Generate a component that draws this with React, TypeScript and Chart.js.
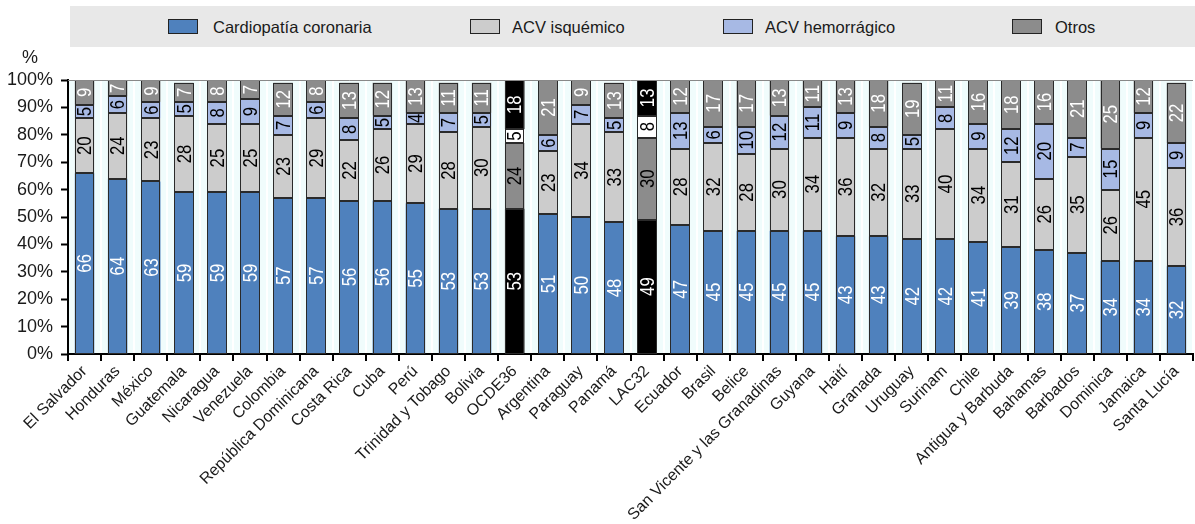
import React, { useEffect, useRef } from "react";
import { Chart, registerables } from "chart.js";

Chart.register(...registerables);

const categories = [
  "El Salvador", "Honduras", "México", "Guatemala", "Nicaragua", "Venezuela", "Colombia",
  "República Dominicana", "Costa Rica", "Cuba", "Perú", "Trinidad y Tobago", "Bolivia", "OCDE36",
  "Argentina", "Paraguay", "Panamá", "LAC32", "Ecuador", "Brasil", "Belice",
  "San Vicente y las Granadinas", "Guyana", "Haití", "Granada", "Uruguay", "Surinam", "Chile",
  "Antigua y Barbuda", "Bahamas", "Barbados", "Dominica", "Jamaica", "Santa Lucía",
];
const coronaria = [66, 64, 63, 59, 59, 59, 57, 57, 56, 56, 55, 53, 53, 53, 51, 50, 48, 49, 47, 45, 45, 45, 45, 43, 43, 42, 42, 41, 39, 38, 37, 34, 34, 32];
const isquemico = [20, 24, 23, 28, 25, 25, 23, 29, 22, 26, 29, 28, 30, 24, 23, 34, 33, 30, 28, 32, 28, 30, 34, 36, 32, 33, 40, 34, 31, 26, 35, 26, 45, 36];
const hemorragico = [5, 6, 6, 5, 8, 9, 7, 6, 8, 5, 4, 7, 5, 5, 6, 7, 5, 8, 13, 6, 10, 12, 11, 9, 8, 5, 8, 9, 12, 20, 7, 15, 9, 9];
const otros = [9, 7, 9, 7, 8, 7, 12, 8, 13, 12, 13, 11, 11, 18, 21, 9, 13, 13, 12, 17, 17, 13, 11, 13, 18, 19, 11, 16, 18, 16, 21, 25, 12, 22];
const seriesNames = ["Cardiopatía coronaria", "ACV isquémico", "ACV hemorrágico", "Otros"];
const highlighted = ["OCDE36", "LAC32"];
const yTicks = [0, 10, 20, 30, 40, 50, 60, 70, 80, 90, 100];

const normalColors = ["#4F81BD", "#CCCCCC", "#A7B9E4", "#8C8C8C"];
const normalText = ["#FFFFFF", "#000000", "#000000", "#FFFFFF"];
const hiColors = ["#000000", "#8C8C8C", "#FFFFFF", "#000000"];
const hiText = ["#FFFFFF", "#000000", "#000000", "#FFFFFF"];

const SANS = '"Liberation Sans", Arial, sans-serif';

const isHi = (i: number) => highlighted.includes(categories[i]);

const bgPlugin = {
  id: "bgPlugin",
  beforeDraw(chart: any) {
    const { ctx, chartArea } = chart;
    ctx.save();
    ctx.fillStyle = "#F0FCFC";
    ctx.fillRect(chartArea.left, chartArea.top, chartArea.right - chartArea.left, chartArea.bottom - chartArea.top);
    ctx.restore();
  },
  afterDraw(chart: any) {
    const { ctx, chartArea } = chart;
    ctx.save();
    ctx.strokeStyle = "#888888";
    ctx.lineWidth = 1;
    ctx.beginPath();
    ctx.moveTo(chartArea.left, chartArea.top + 0.5);
    ctx.lineTo(chartArea.right, chartArea.top + 0.5);
    ctx.stroke();
    ctx.fillStyle = "#1a1a1a";
    ctx.font = `18px ${SANS}`;
    ctx.textAlign = "center";
    ctx.textBaseline = "middle";
    ctx.fillText("%", 30, 58);
    ctx.restore();
  },
};

const labelPlugin = {
  id: "labelPlugin",
  afterDatasetsDraw(chart: any) {
    const { ctx, chartArea } = chart;
    ctx.save();
    // segment outlines
    ctx.strokeStyle = "#2a2a2a";
    ctx.lineWidth = 1;
    chart.data.datasets.forEach((ds: any, di: number) => {
      const meta = chart.getDatasetMeta(di);
      meta.data.forEach((el: any) => {
        const top = Math.max(el.y, chartArea.top);
        const bottom = Math.min(el.base, chartArea.bottom);
        if (bottom - top < 0.5) return;
        const l = Math.round(el.x - el.width / 2) + 0.5;
        const r = Math.round(el.x + el.width / 2) - 0.5;
        const t = Math.round(top) + 0.5;
        const b = Math.round(bottom) - 0.5;
        ctx.strokeRect(l, t, r - l, b - t);
      });
    });
    ctx.font = `21px ${SANS}`;
    ctx.textAlign = "center";
    ctx.textBaseline = "middle";
    chart.data.datasets.forEach((ds: any, di: number) => {
      const meta = chart.getDatasetMeta(di);
      meta.data.forEach((el: any, i: number) => {
        const v = ds.data[i];
        const top = Math.max(el.y, chartArea.top);
        const bottom = Math.min(el.base, chartArea.bottom);
        const cy = (top + bottom) / 2;
        ctx.fillStyle = isHi(i) ? hiText[di] : normalText[di];
        ctx.save();
        ctx.translate(el.x + 1, cy);
        ctx.rotate(-Math.PI / 2);
        ctx.scale(0.8, 1);
        ctx.fillText(String(v), 0, 0);
        ctx.restore();
      });
    });
    ctx.restore();
  },
};

export default function App() {
  const ref = useRef<HTMLCanvasElement>(null);

  useEffect(() => {
    if (!ref.current) return;
    const series = [coronaria, isquemico, hemorragico, otros];
    const chart = new Chart(ref.current, {
      type: "bar",
      data: {
        labels: categories,
        datasets: series.map((d, di) => ({
          label: seriesNames[di],
          data: d,
          backgroundColor: categories.map((_, i) => (isHi(i) ? hiColors[di] : normalColors[di])),
          borderWidth: 0,
          barPercentage: 0.59,
          categoryPercentage: 1,
        })),
      },
      options: {
        responsive: false,
        animation: false,
        events: [],
        layout: { padding: { top: 80, right: 2, left: 0, bottom: 0 } },
        plugins: { legend: { display: false }, tooltip: { enabled: false } },
        scales: {
          x: {
            stacked: true,
            offset: true,
            grid: {
              offset: true,
              color: "#FFFFFF",
              lineWidth: 2,
              tickColor: "#000000",
              tickLength: 7,
              tickWidth: 2,
            },
            border: { color: "#000000", width: 2 },
            ticks: {
              autoSkip: false,
              minRotation: 45,
              maxRotation: 45,
              padding: 1,
              color: "#1a1a1a",
              font: { family: SANS, size: 16 },
            },
            afterFit: (s: any) => {
              s.height = 170;
            },
          },
          y: {
            stacked: true,
            min: 0,
            max: 100,
            afterBuildTicks: (s: any) => {
              s.ticks = yTicks.map((v) => ({ value: v }));
            },
            ticks: {
              callback: (v: any) => `${v}%`,
              padding: 8,
              color: "#1a1a1a",
              font: { family: SANS, size: 18 },
            },
            grid: { drawOnChartArea: false, tickColor: "#000000", tickLength: 7, tickWidth: 2 },
            border: { color: "#000000", width: 2 },
            afterFit: (s: any) => {
              s.width = 68;
            },
          },
        },
      },
      plugins: [bgPlugin, labelPlugin],
    });
    return () => chart.destroy();
  }, []);

  const legendItems = [
    { x: 168, tx: 213, color: normalColors[0] },
    { x: 470, tx: 512, color: normalColors[1] },
    { x: 723, tx: 765, color: normalColors[2] },
    { x: 1012, tx: 1055, color: normalColors[3] },
  ];

  return (
    <div style={{ position: "fixed", left: 0, top: 0, width: 1195, height: 524, background: "#FFFFFF" }}>
      <div style={{ position: "absolute", left: 70, top: 6, width: 1125, height: 41, background: "#E8E8E8" }} />
      {legendItems.map((it, i) => (
        <React.Fragment key={i}>
          <div
            style={{
              position: "absolute",
              left: it.x,
              top: 19,
              width: 30,
              height: 15,
              boxSizing: "border-box",
              background: it.color,
              border: "1px solid #222",
            }}
          />
          <div
            style={{
              position: "absolute",
              left: it.tx,
              top: 17,
              height: 20,
              lineHeight: "20px",
              fontFamily: SANS,
              fontSize: 16.5,
              color: "#1a1a1a",
              whiteSpace: "nowrap",
            }}
          >
            {seriesNames[i]}
          </div>
        </React.Fragment>
      ))}
      <canvas ref={ref} width={1195} height={524} style={{ position: "absolute", left: 0, top: 0, width: 1195, height: 524 }} />
    </div>
  );
}
